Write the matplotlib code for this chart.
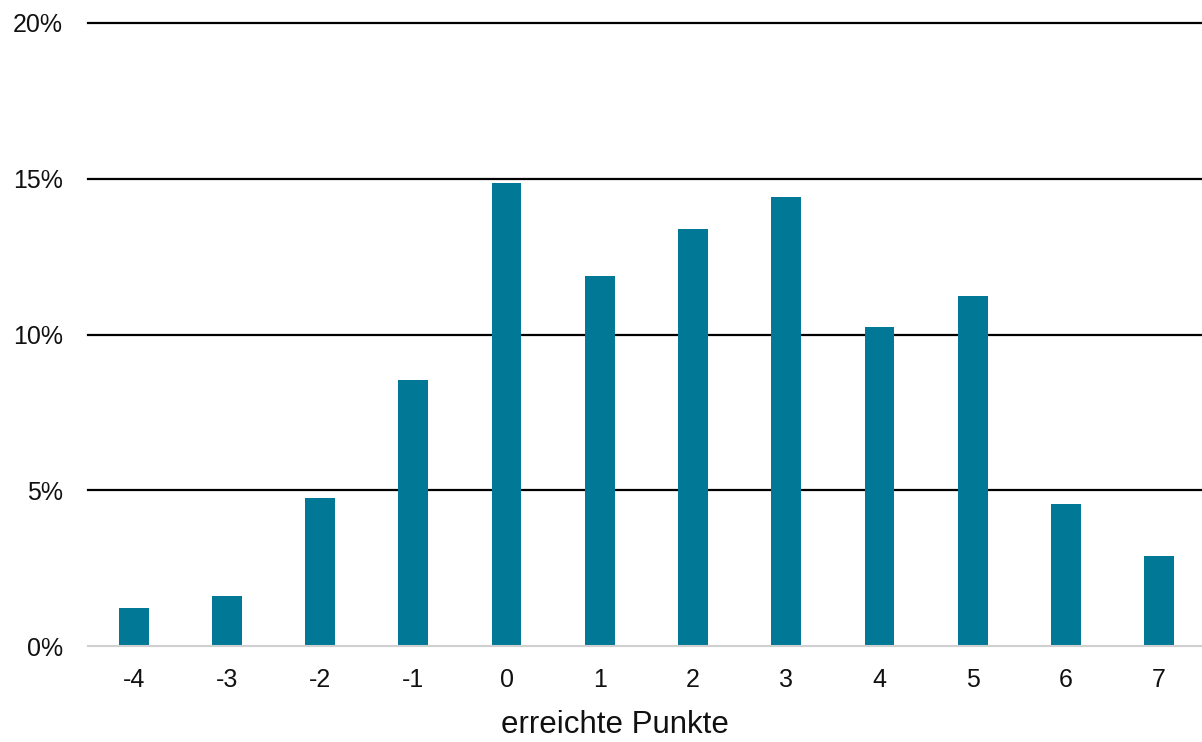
import matplotlib.pyplot as plt
from matplotlib.ticker import FuncFormatter

plt.rcParams['font.family'] = ['Liberation Sans', 'DejaVu Sans']

# erreichte Punkte vs. Anteil (%)
points = [-4, -3, -2, -1, 0, 1, 2, 3, 4, 5, 6, 7]
share = [1.22, 1.6, 4.75, 8.55, 14.85, 11.88, 13.38, 14.4, 10.25, 11.25, 4.57, 2.9]

fig = plt.figure(figsize=(12.02, 7.42), dpi=100)
ax = fig.add_axes([88 / 1202, 96 / 742, 1 - 88 / 1202, 623 / 742])

ax.bar(points, share, width=0.32, color='#007896', zorder=3)

ax.set_xlim(-4.49, 7.46)
ax.set_ylim(0, 20)
ax.set_yticks([0, 5, 10, 15, 20])
ax.yaxis.set_major_formatter(FuncFormatter(lambda v, p: f"{v:.0f}%"))
ax.set_xticks(points)
ax.set_xticklabels([str(p) for p in points])

for y in [5, 10, 15, 20]:
    ax.axhline(y, color='black', lw=1.6, zorder=1, clip_on=False)
ax.axhline(0, color='#d0d0d0', lw=1.5, zorder=4, clip_on=False)

for s in ax.spines.values():
    s.set_visible(False)
ax.tick_params(length=0, labelsize=18, colors='#111111')
ax.tick_params(axis='y', pad=18)
ax.tick_params(axis='x', pad=16)

ax.set_xlabel('erreichte Punkte', fontsize=22.5, labelpad=13, color='#111111')
ax.xaxis.label.set_x(0.473)

fig.savefig('out.png', dpi=100)
